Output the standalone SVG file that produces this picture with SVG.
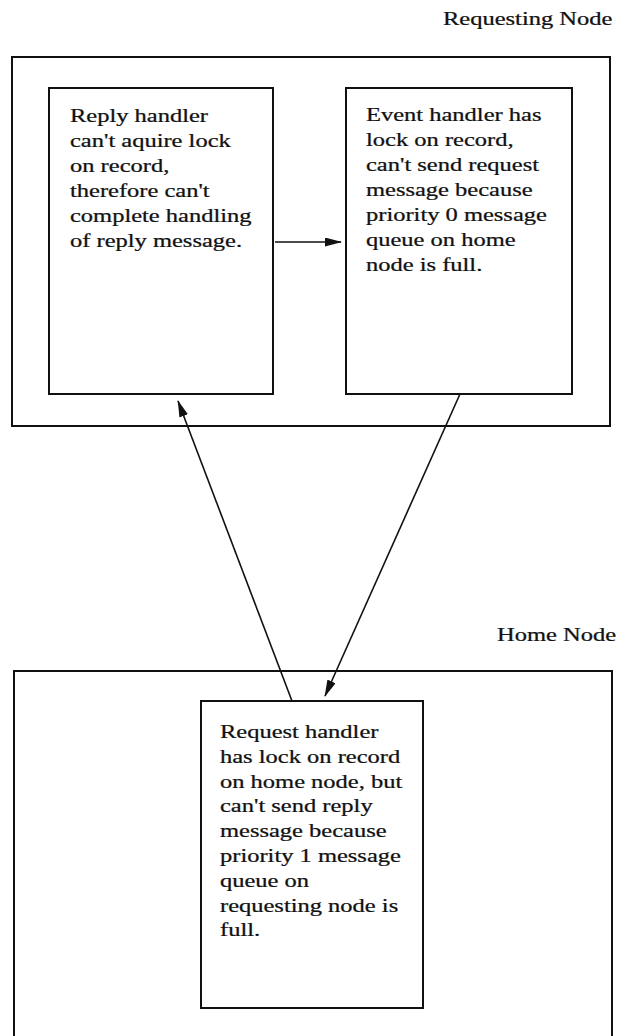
<svg xmlns="http://www.w3.org/2000/svg" width="621" height="1036" viewBox="0 0 621 1036">
  <style>
    .frame { fill: none; stroke: #111; stroke-width: 2; }
    .box { fill: #fff; stroke: #111; stroke-width: 2; }
    .txt { font-family: "Liberation Serif", "Times New Roman", serif; font-size: 19px; fill: #111; stroke: #111; stroke-width: 0.25; }
    .edge { fill: none; stroke: #111; stroke-width: 1.6; marker-end: url(#arrow); }
  </style>
  <defs>
    <marker id="arrow" markerUnits="userSpaceOnUse" markerWidth="17" markerHeight="9" refX="16" refY="4.5" orient="auto">
      <path d="M0,0 L17,4.5 L0,9 Z" fill="#111"/>
    </marker>
  </defs>

  <rect width="621" height="1036" fill="#fff"/>

  <!-- Requesting node -->
  <g id="requesting-node">
    <rect class="frame" x="12" y="57" width="598" height="369"/>
    <text class="txt" transform="translate(443,25) scale(1.29,1)">Requesting Node</text>
  </g>

  <g id="reply-handler">
    <rect class="box" x="49" y="88" width="224" height="306"/>
    <text class="txt" transform="translate(70,122) scale(1.29,1)">
      <tspan x="0" dy="0">Reply handler</tspan>
      <tspan x="0" dy="25">can't aquire lock</tspan>
      <tspan x="0" dy="25">on record,</tspan>
      <tspan x="0" dy="25">therefore can't</tspan>
      <tspan x="0" dy="25">complete handling</tspan>
      <tspan x="0" dy="25">of reply message.</tspan>
    </text>
  </g>

  <g id="event-handler">
    <rect class="box" x="346" y="88" width="226" height="306"/>
    <text class="txt" transform="translate(366,121) scale(1.29,1)">
      <tspan x="0" dy="0">Event handler has</tspan>
      <tspan x="0" dy="25">lock on record,</tspan>
      <tspan x="0" dy="25">can't send request</tspan>
      <tspan x="0" dy="25">message because</tspan>
      <tspan x="0" dy="25">priority 0 message</tspan>
      <tspan x="0" dy="25">queue on home</tspan>
      <tspan x="0" dy="25">node is full.</tspan>
    </text>
  </g>

  <!-- Home node -->
  <g id="home-node">
    <rect class="frame" x="14" y="671" width="598" height="380"/>
    <text class="txt" transform="translate(497,641) scale(1.29,1)">Home Node</text>
  </g>

  <g id="request-handler">
    <rect class="box" x="201" y="701" width="222" height="307"/>
    <text class="txt" transform="translate(220,738) scale(1.29,1)">
      <tspan x="0" dy="0">Request handler</tspan>
      <tspan x="0" dy="24.8">has lock on record</tspan>
      <tspan x="0" dy="24.8">on home node, but</tspan>
      <tspan x="0" dy="24.8">can't send reply</tspan>
      <tspan x="0" dy="24.8">message because</tspan>
      <tspan x="0" dy="24.8">priority 1 message</tspan>
      <tspan x="0" dy="24.8">queue on</tspan>
      <tspan x="0" dy="24.8">requesting node is</tspan>
      <tspan x="0" dy="24.8">full.</tspan>
    </text>
  </g>

  <!-- Wait-for connectors -->
  <g id="connectors">
    <line class="edge" x1="275" y1="242" x2="341" y2="242"/>
    <line class="edge" x1="292" y1="701" x2="178" y2="401"/>
    <line class="edge" x1="460" y1="394" x2="325" y2="696"/>
  </g>
</svg>
